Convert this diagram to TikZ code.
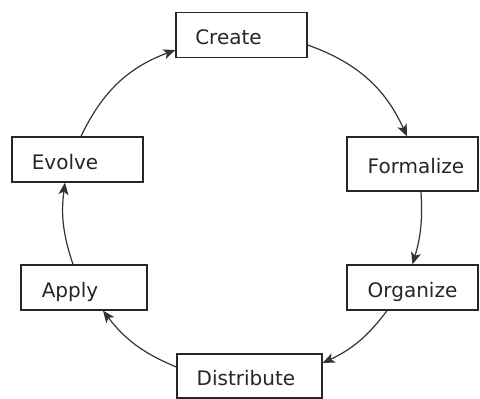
\documentclass[tikz,border=0pt]{standalone}
\usepackage{fontspec}
\setmainfont{DejaVu Sans}
\usetikzlibrary{arrows.meta}
\begin{document}
\begin{tikzpicture}[x=1pt,y=-1pt,
  stagebox/.style={draw=black!85, line width=1.3pt, fill=white, inner sep=0pt,
    minimum width=131pt, minimum height=45pt, text height=20pt, text depth=1pt,
    font=\fontsize{20}{24}\selectfont, text=black!85},
  flow/.style={line width=1.2pt, draw=black!80,
    -{Stealth[length=12pt,width=10pt,inset=3pt]}, bend left=#1}]
\useasboundingbox (0,0) rectangle (480,399);
\node[stagebox] (create) at (241.5,35) {Create\kern26pt};
\node[stagebox, minimum height=54pt] (formalize) at (412.5,164) {\kern7pt Formalize};
\node[stagebox] (organize) at (412.5,287.5) {Organize};
\node[stagebox, minimum width=145pt, minimum height=44pt] (distribute) at (249.5,376) {Distribute\kern7pt};
\node[stagebox, minimum width=126pt] (apply) at (84,287.5) {Apply\kern28pt};
\node[stagebox] (evolve) at (77.5,159.5) {Evolve\kern25pt};
\draw[flow=22] ([xshift=3.5pt]evolve.north) to ([yshift=-15pt]create.west);
\draw[flow=23] ([yshift=-10pt]create.east) to ([xshift=-5.5pt]formalize.north);
\draw[flow=10] ([xshift=8.5pt]formalize.south) to (organize.north);
\draw[flow=14] ([xshift=-25.5pt]organize.south) to ([yshift=13pt]distribute.east);
\draw[flow=15] ([yshift=9pt]distribute.west) to ([xshift=19pt]apply.south);
\draw[flow=13] ([xshift=-11pt]apply.north) to ([xshift=-12.5pt]evolve.south);
\end{tikzpicture}
\end{document}
